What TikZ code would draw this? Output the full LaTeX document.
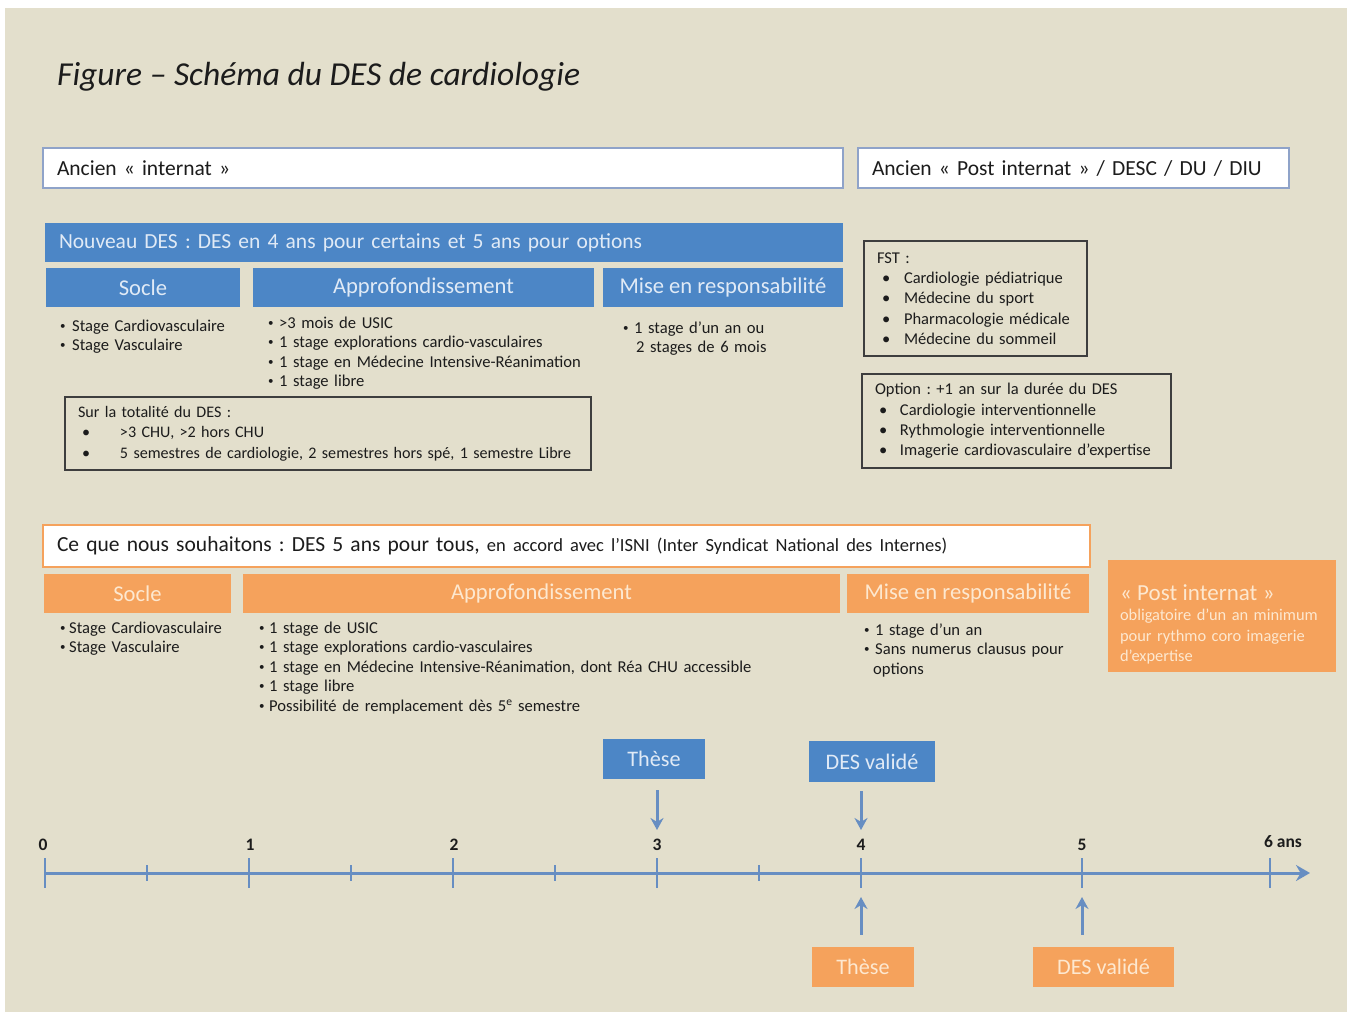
\documentclass[tikz,border=0pt]{standalone}
\usepackage{fontspec}
\setmainfont{Carlito}
\usetikzlibrary{arrows.meta}
\frenchspacing

\definecolor{fond}{RGB}{227,223,204}
\definecolor{bleu}{RGB}{76,134,198}
\definecolor{bleutxt}{RGB}{224,234,246}
\definecolor{orangeDES}{RGB}{245,162,92}
\definecolor{orangetxt}{RGB}{253,232,208}
\definecolor{axe}{RGB}{103,142,194}
\definecolor{cadre}{RGB}{143,163,201}
\definecolor{texte}{RGB}{28,28,28}

\newcommand{\taille}[2]{\fontsize{#1}{#2}\selectfont}
\newcommand{\petitpuce}{\raisebox{0.12em}{\fontsize{11}{11}\selectfont\textbullet}}
\newcommand{\puce}[1]{\makebox[#1][l]{\petitpuce}}
\newcommand{\pucetab}[2]{\makebox[#2][l]{\hspace{#1}\textbullet}}

\begin{document}
\begin{tikzpicture}
	[x=1pt,y=-1pt,
	cadreblanc/.style={draw=cadre,line width=1.5pt,fill=white,minimum height=40pt,inner xsep=14pt,inner ysep=0pt,align=left,font=\taille{21.5}{25},text=texte},
	bandeau/.style={fill=bleu,minimum height=39pt,inner xsep=14pt,inner ysep=0pt,align=left,font=\taille{21.5}{24},text=bleutxt},
	titrebleu/.style={fill=bleu,minimum height=39pt,inner sep=0pt,font=\taille{22.6}{26},text=bleutxt},
	titreorange/.style={fill=orangeDES,minimum height=39pt,inner sep=0pt,font=\taille{22.6}{26},text=orangetxt},
	liste/.style={anchor=base west,inner sep=0pt,align=left,text width=#1,font=\taille{16.6}{19.6},text=texte},
	encadre/.style={draw=texte!85,line width=1.8pt,inner xsep=13pt,inner ysep=0pt,align=left,font=\taille{16.5}{20.3},text=texte},
	jalonbleu/.style={fill=bleu,inner sep=0pt,minimum height=40pt,font=\taille{22.2}{25},text=bleutxt},
	jalonorange/.style={fill=orangeDES,inner sep=0pt,minimum height=40pt,font=\taille{22.2}{25},text=orangetxt},
	fleche/.style={draw=axe,line width=3pt,-{Stealth[length=12pt,width=13pt]}},
	graduation/.style={inner sep=0pt,font=\bfseries\taille{17.5}{20},text=texte}]

	% fond
	\useasboundingbox (0,0) rectangle (1347,1012);
	\fill[white] (0,0) rectangle (1347,1012);
	\fill[fond] (5,8) rectangle (1347,1012);

	\node[anchor=base west,inner sep=0pt,font=\taille{33.5}{38}\itshape,text=texte] (titre) at (57,85) {Figure – Schéma du DES de cardiologie};

	% ancien systeme
	\node[cadreblanc,text width=772pt] (ancien) at (443,168) {Ancien « internat »};
	\node[cadreblanc,text width=403pt] (ancienpost) at (1073.5,168) {Ancien « Post internat » / DESC / DU / DIU};

	% nouveau DES
	\node[bandeau,text width=770pt] (nouveau) at (444,242.5) {Nouveau DES : DES en 4 ans pour certains et 5 ans pour options};
	\node[titrebleu,minimum width=194pt] (socleA) at (143,287.5) {Socle};
	\node[titrebleu,minimum width=341pt] (approA) at (423.5,287.5) {Approfondissement};
	\node[titrebleu,minimum width=240pt] (miseA) at (723,287.5) {Mise en responsabilité};

	\node[liste=180pt] (socleAliste) at (60,331) {\puce{12pt}Stage Cardiovasculaire\\ \puce{12pt}Stage Vasculaire};
	\node[liste=330pt] (approAliste) at (268,328) {\puce{11pt}>3 mois de USIC\\ \puce{11pt}1 stage explorations cardio-vasculaires\\ \puce{11pt}1 stage en Médecine Intensive-Réanimation\\ \puce{11pt}1 stage libre};
	\node[liste=200pt] (miseAliste) at (623,333) {\puce{11pt}1 stage d’un an ou\\ \hspace*{13pt}2 stages de 6 mois};

	\node[encadre,font=\taille{16.1}{20.3},minimum width=526pt,minimum height=73pt,text width=500pt] (totalite) at (328,433.5) {Sur la totalité du DES :\\ \pucetab{4pt}{42pt}>3 CHU, >2 hors CHU\\ \pucetab{4pt}{42pt}5 semestres de cardiologie, 2 semestres hors spé, 1 semestre Libre};

	\node[encadre,minimum width=223pt,minimum height=115pt,text width=197pt] (fst) at (975.5,298.5) {FST :\\ \pucetab{5pt}{27pt}Cardiologie pédiatrique\\ \pucetab{5pt}{27pt}Médecine du sport\\ \pucetab{5pt}{27pt}Pharmacologie médicale\\ \pucetab{5pt}{27pt}Médecine du sommeil};
	\node[encadre,minimum width=309pt,minimum height=94pt,text width=283pt] (option) at (1016.5,421) {Option : +1 an sur la durée du DES\\ \pucetab{4pt}{25pt}Cardiologie interventionnelle\\ \pucetab{4pt}{25pt}Rythmologie interventionnelle\\ \pucetab{4pt}{25pt}Imagerie cardiovasculaire d’expertise};

	% ce que nous souhaitons
	\node[cadreblanc,draw=orangeDES,line width=2.5pt,minimum height=42pt,text width=1019pt] (souhait) at (566.5,546) {Ce que nous souhaitons : DES 5 ans pour tous, {\taille{18.5}{20}en accord avec l’ISNI (Inter Syndicat National des Internes)}};
	\node[titreorange,minimum width=187pt] (socleB) at (137.5,593.5) {Socle};
	\node[titreorange,minimum width=597pt] (approB) at (541.5,593.5) {Approfondissement};
	\node[titreorange,minimum width=242pt] (miseB) at (968,593.5) {Mise en responsabilité};
	\node[fill=orangeDES,minimum width=228pt,minimum height=112pt,inner xsep=12pt,inner ysep=0pt,text width=204pt,align=left,text=orangetxt,font=\taille{16.4}{20.5}] (postB) at (1222,616) {\rule{0pt}{33pt}{\taille{23}{24}« Post internat »}\\ obligatoire d’un an minimum\\ pour rythmo coro imagerie\\ d’expertise};

	\node[liste=180pt] (socleBliste) at (60,633) {\puce{9pt}Stage Cardiovasculaire\\ \puce{9pt}Stage Vasculaire};
	\node[liste=580pt] (approBliste) at (259,633) {\puce{10pt}1 stage de USIC\\ \puce{10pt}1 stage explorations cardio-vasculaires\\ \puce{10pt}1 stage en Médecine Intensive-Réanimation, dont Réa CHU accessible\\ \puce{10pt}1 stage libre\\ \puce{10pt}Possibilité de remplacement dès 5\textsuperscript{e} semestre};
	\node[liste=220pt] (miseBliste) at (864,635) {\puce{11pt}1 stage d’un an\\ \puce{11pt}Sans numerus clausus pour\\ \hspace*{9pt}options};

	% frise
	\coordinate (debut) at (45,873);
	\coordinate (fin) at (1310,873);
	\draw[draw=axe,line width=3pt,-{Stealth[length=14pt,width=16pt]}] (debut) -- (fin);
	\foreach \x in {147,351,555,759}
		\draw[axe,line width=2pt] (\x,865) -- (\x,881);
	\foreach \x/\n in {45/0,249/1,453/2,657/3,861/4,1082/5,1270/6} {
		\coordinate (t\n) at (\x,873);
		\draw[axe,line width=2.5pt] (\x,858) -- (\x,888);
	}
	\foreach \x/\n in {43/0,250/1,454/2,657/3,861/4,1082/5}
		\node[graduation] (l\n) at (\x,845) {\n};
	\node[graduation] (l6) at (1283,842) {6 ans};

	% jalons
	\node[jalonbleu,minimum width=102pt] (theseA) at (654,759) {Thèse};
	\node[jalonbleu,minimum width=126pt,minimum height=41pt] (desA) at (872,761.5) {DES validé};
	\node[jalonorange,minimum width=102pt] (theseB) at (863,967) {Thèse};
	\node[jalonorange,minimum width=141pt] (desB) at (1103.5,967) {DES validé};

	\draw[fleche,shorten <=11pt,shorten >=43pt] (theseA.south -| t3) -- (t3);
	\draw[fleche,shorten <=9pt,shorten >=43pt] (desA.south -| t4) -- (t4);
	\draw[fleche,shorten <=12pt,shorten >=24pt] (theseB.north -| t4) -- (t4);
	\draw[fleche,shorten <=12pt,shorten >=24pt] (desB.north -| t5) -- (t5);
\end{tikzpicture}
\end{document}
